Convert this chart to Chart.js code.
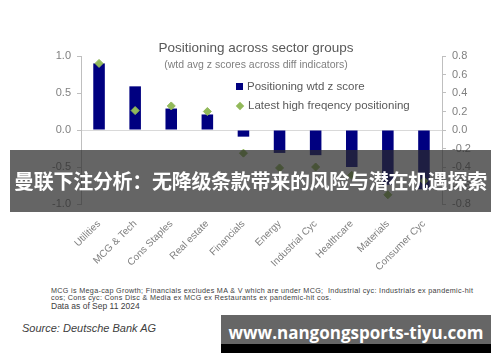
<!DOCTYPE html>
<html>
<head>
<meta charset="utf-8">
<script src="https://cdn.jsdelivr.net/npm/chart.js@4.4.1/dist/chart.umd.min.js"></script>
<style>
  body { margin: 0; background: #fff; width: 500px; height: 362px; overflow: hidden; position: relative; font-family: "Liberation Sans", Arial, sans-serif; }
  #wrap { position: absolute; left: 0; top: 0; width: 500px; height: 270px; }
  .abs { position: absolute; white-space: nowrap; }
  #titulo { left: 0; width: 512px; top: 40px; text-align: center; font-size: 13.5px; color: #595959; }
  #sub { left: 0; width: 512px; top: 58px; text-align: center; font-size: 10.5px; color: #7f7f7f; }
  .leg { font-size: 11.5px; color: #595959; left: 236px; }
  .quad { display: inline-block; width: 7px; height: 7px; background: #000080; margin-right: 4px; }
  .losango { display: inline-block; width: 6px; height: 6px; background: #92b95a; transform: rotate(45deg); margin: 0 5px 0 1px; }
  #nota { left: 51px; top: 287px; font-size: 7.2px; line-height: 7.2px; letter-spacing: 0.32px; color: #404040; }
  #data { left: 51px; top: 301px; font-size: 8.5px; color: #404040; }
  #fonte { left: 22px; top: 322px; font-size: 11px; font-style: italic; color: #404040; }
  #faixa { left: 10px; top: 150px; width: 481px; height: 62px; background: rgba(42,42,42,0.72);
           color: #fff; font-family: "Noto Sans CJK SC", sans-serif; font-weight: bold; font-size: 20px;
           line-height: 62px; text-align: center; letter-spacing: -0.3px; }
  #marca { left: 221px; top: 315px; width: 270px; height: 38px; background: #666; }
  #marca .barra { position: absolute; left: 0; bottom: 0; width: 270px; height: 9px; background: #000; }
  #marca .txt { position: absolute; left: 0; top: 8px; width: 270px; text-align: center; color: #fff;
                font-family: "Open Sans", sans-serif; font-weight: bold; font-size: 17px; line-height: 20px; }
</style>
</head>
<body>
<div id="wrap"><canvas id="grafico" width="500" height="270"></canvas></div>

<div class="abs" id="titulo">Positioning across sector groups</div>
<div class="abs" id="sub">(wtd avg z scores across diff indicators)</div>
<div class="abs leg" style="top:80px"><span class="quad"></span>Positioning wtd z score</div>
<div class="abs leg" style="top:99px"><span class="losango"></span>Latest high freqency positioning</div>

<div class="abs" id="nota">MCG is Mega-cap Growth; Financials excludes MA &amp; V which are under MCG;&nbsp; Industrial cyc: Industrials ex pandemic-hit<br>cos; Cons cyc: Cons Disc &amp; Media ex MCG ex Restaurants ex pandemic-hit cos.</div>
<div class="abs" id="data">Data as of Sep 11 2024</div>
<div class="abs" id="fonte">Source: Deutsche Bank AG</div>

<div class="abs" id="faixa">曼联下注分析：无降级条款带来的风险与潜在机遇探索</div>
<div class="abs" id="marca"><div class="barra"></div><div class="txt">www.nangongsports-tiyu.com</div></div>

<script>
// categorias e valores
var setores = ['Utilities', 'MCG & Tech', 'Cons Staples', 'Real estate', 'Financials', 'Energy', 'Industrial Cyc', 'Healthcare', 'Materials', 'Consumer Cyc'];
var zscore = [0.90, 0.59, 0.29, 0.21, -0.09, -0.31, -0.34, -0.50, -0.74, -0.80];      // eixo esquerdo
var altaFreq = [0.72, 0.21, 0.26, 0.20, -0.25, -0.41, -0.40, -0.49, -0.70, -0.55];   // eixo direito

var cinza = '#808080';

var dados = {
    labels: setores,
    datasets: [
    {
        type: 'line',
        label: 'Latest high freqency positioning',
        data: altaFreq,
        yAxisID: 'y1',
        showLine: false,
        pointStyle: 'rectRot',
        pointRadius: 4,
        pointBackgroundColor: '#92b95a',
        pointBorderColor: '#92b95a',
        order: 0
    },
    {
        type: 'bar',
        label: 'Positioning wtd z score',
        data: zscore,
        yAxisID: 'y',
        backgroundColor: '#000080',
        barPercentage: 0.32,
        categoryPercentage: 1,
        order: 1
    }]
};

const config = {
    data: dados,
    options: {
        responsive: false,
        animation: false,
        layout: { padding: { top: 56, left: 0, right: 0, bottom: 0 } },
        plugins: { legend: { display: false }, tooltip: { enabled: false } },
        scales: {
            x: {
                grid: { display: false },
                border: { display: false },
                ticks: { color: cinza, font: { size: 10, family: 'Liberation Sans' }, minRotation: 45, maxRotation: 45, padding: 6 },
                afterFit: function (s) { s.height = 66; }
            },
            y: {
                position: 'left',
                min: -1, max: 1,
                ticks: { stepSize: 0.5, color: cinza, font: { size: 11, family: 'Liberation Sans' }, padding: 6,
                         callback: function (v) { return v.toFixed(1); } },
                grid: { color: function (c) { return c.tick.value === 0 ? '#d9d9d9' : 'rgba(0,0,0,0)'; },
                        tickColor: '#bfbfbf', tickLength: 4, lineWidth: 1 },
                border: { color: '#bfbfbf' },
                afterFit: function (s) { s.width = 81; }
            },
            y1: {
                position: 'right',
                min: -0.8, max: 0.8,
                ticks: { stepSize: 0.2, color: cinza, font: { size: 11, family: 'Liberation Sans' }, padding: 6,
                         callback: function (v) { return (Math.abs(v) < 1e-9 ? 0 : v).toFixed(1); } },
                grid: { drawOnChartArea: false, tickColor: '#bfbfbf', tickLength: 4 },
                border: { color: '#bfbfbf' },
                afterFit: function (s) { s.width = 58; }
            }
        }
    }
};

var grafico = new Chart(document.getElementById('grafico'), config);
</script>
</body>
</html>
